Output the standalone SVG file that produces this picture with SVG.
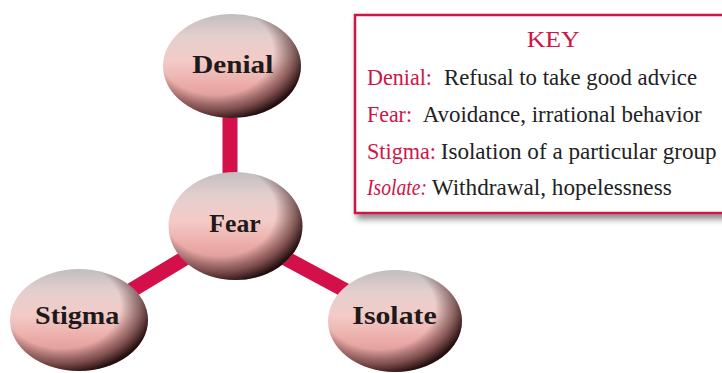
<svg xmlns="http://www.w3.org/2000/svg" width="722" height="373" viewBox="0 0 722 373">
<defs>
<linearGradient id="base" x1="0" y1="0" x2="0" y2="1">
<stop offset="0" stop-color="#c2bebe"/>
<stop offset="0.22" stop-color="#e4cfce"/>
<stop offset="0.45" stop-color="#f3cbc7"/>
<stop offset="0.7" stop-color="#eaa9a6"/>
<stop offset="1" stop-color="#c98e8c"/>
</linearGradient>
<radialGradient id="shade" cx="0.38" cy="0.36" r="0.7">
<stop offset="0.6" stop-color="#3a1818" stop-opacity="0"/>
<stop offset="0.8" stop-color="#4a2222" stop-opacity="0.6"/>
<stop offset="0.95" stop-color="#241010" stop-opacity="1"/>
</radialGradient>
<filter id="shadow" x="-5%" y="-5%" width="115%" height="120%">
<feDropShadow dx="3" dy="5" stdDeviation="3" flood-color="#000" flood-opacity="0.45"/>
</filter>
</defs>
<style>
.base{fill:url(#base)}
.shade{fill:url(#shade)}
.lbl{font-family:"Liberation Serif","Times New Roman",serif;font-weight:bold;font-size:26px;fill:#1e1a1a;text-anchor:start}
.conn{stroke:#d3104a;stroke-width:15;stroke-linecap:butt;fill:none}
.key{font-family:"Liberation Serif","Times New Roman",serif;font-size:23px}
.red{fill:#d01448}
.blk{fill:#222}
</style>
<g id="connectors">
<line class="conn" x1="230" y1="110" x2="230" y2="180"/>
<line class="conn" x1="185" y1="258" x2="112" y2="302"/>
<line class="conn" x1="285" y1="258" x2="352" y2="294"/>
</g>
<g id="key">
<rect x="355" y="15" width="385" height="198" fill="#fff" stroke="#d01448" stroke-width="2.5" filter="url(#shadow)"/>
<text class="key red" x="526.7" y="47" font-size="28" textLength="53" lengthAdjust="spacingAndGlyphs">KEY</text>
<text class="key red" x="367" y="85" textLength="65" lengthAdjust="spacingAndGlyphs">Denial:</text>
<text class="key blk" x="444" y="85" textLength="253" lengthAdjust="spacingAndGlyphs">Refusal to take good advice</text>
<text class="key red" x="367" y="122" textLength="45" lengthAdjust="spacingAndGlyphs">Fear:</text>
<text class="key blk" x="422.7" y="122" textLength="279" lengthAdjust="spacingAndGlyphs">Avoidance, irrational behavior</text>
<text class="key red" x="367" y="159" textLength="69" lengthAdjust="spacingAndGlyphs">Stigma:</text>
<text class="key blk" x="440.7" y="159" textLength="276" lengthAdjust="spacingAndGlyphs">Isolation of a particular group</text>
<text class="key red" x="367" y="195" font-style="italic" textLength="60" lengthAdjust="spacingAndGlyphs">Isolate:</text>
<text class="key blk" x="431.7" y="195" textLength="240" lengthAdjust="spacingAndGlyphs">Withdrawal, hopelessness</text>
</g>
<g id="node-denial">
<ellipse class="base" cx="232" cy="66" rx="69" ry="52"/>
<ellipse class="shade" cx="232" cy="66" rx="69" ry="52"/>
<text class="lbl" x="192.3" y="72.5" textLength="81" lengthAdjust="spacingAndGlyphs">Denial</text>
</g>
<g id="node-fear">
<ellipse class="base" cx="235.5" cy="226" rx="67" ry="54"/>
<ellipse class="shade" cx="235.5" cy="226" rx="67" ry="54"/>
<text class="lbl" x="209.3" y="232.3" textLength="51.4" lengthAdjust="spacingAndGlyphs">Fear</text>
</g>
<g id="node-stigma">
<ellipse class="base" cx="79" cy="320" rx="69" ry="51"/>
<ellipse class="shade" cx="79" cy="320" rx="69" ry="51"/>
<text class="lbl" x="35" y="324" textLength="84.3" lengthAdjust="spacingAndGlyphs">Stigma</text>
</g>
<g id="node-isolate">
<ellipse class="base" cx="395" cy="321" rx="67" ry="51"/>
<ellipse class="shade" cx="395" cy="321" rx="67" ry="51"/>
<text class="lbl" x="352.3" y="324" textLength="84.4" lengthAdjust="spacingAndGlyphs">Isolate</text>
</g>
</svg>
